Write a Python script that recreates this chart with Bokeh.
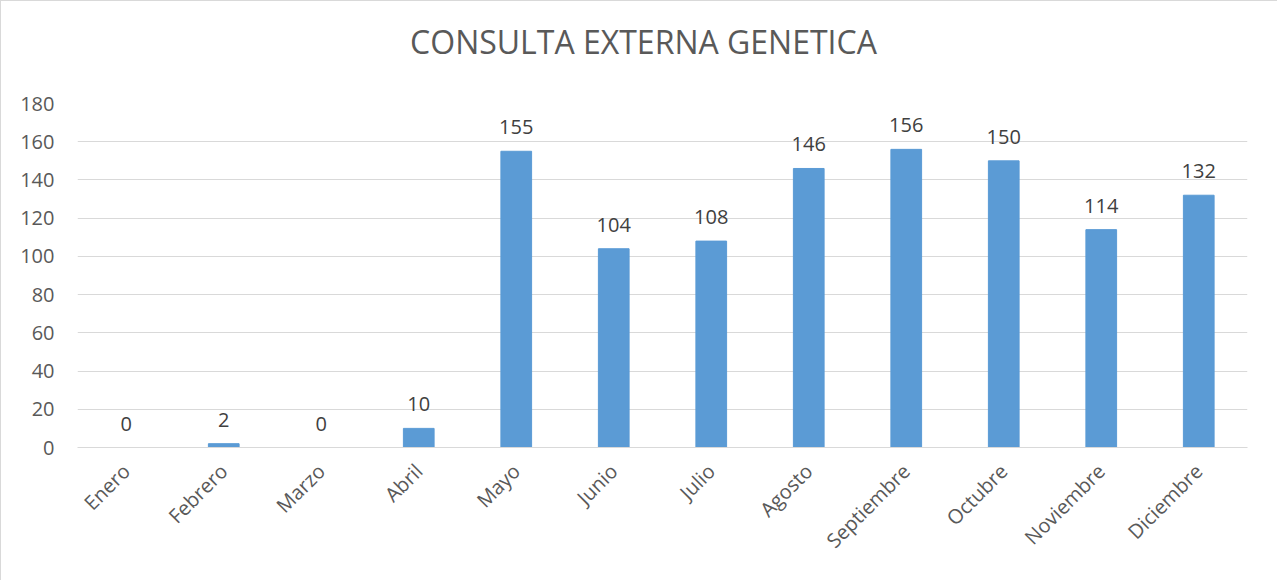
import math
from bokeh.plotting import figure
from bokeh.models import ColumnDataSource, LabelSet, Range1d, FixedTicker, Div
from bokeh.layouts import column
from bokeh.core.properties import value
from bokeh.embed import file_html
from bokeh.resources import INLINE

months = ["Enero", "Febrero", "Marzo", "Abril", "Mayo", "Junio", "Julio",
          "Agosto", "Septiembre", "Octubre", "Noviembre", "Diciembre"]
values = [0, 2, 0, 10, 155, 104, 108, 146, 156, 150, 114, 132]
y_ticks = [0, 20, 40, 60, 80, 100, 120, 140, 160, 180]
title_text = "CONSULTA EXTERNA GENETICA"

src = ColumnDataSource(dict(m=months, v=values, t=[str(v) for v in values]))

FONT = "Open Sans"
TXT = "#595959"
W = 1267

head = Div(
    text=('<div style="padding-top:21px;font-family:\'Open Sans\';'
          'font-size:32px;line-height:32px;color:#595959;text-align:center;'
          'white-space:nowrap;position:relative;left:5px;width:%dpx;">%s</div>'
          % (W, title_text)),
    width=W, height=60)

p = figure(x_range=months, y_range=Range1d(0, 180), width=W, height=510,
           title=None, output_backend="svg", toolbar_location=None,
           min_border_left=77, min_border_right=20, min_border_top=33,
           min_border_bottom=133)
p.border_fill_color = None

p.vbar(x="m", top="v", width=0.315, source=src, color="#5B9BD5")

labels = LabelSet(x="m", y="v", text="t", source=src, y_offset=17,
                  text_align="center", text_baseline="alphabetic",
                  text_font=value(FONT), text_font_size="20px",
                  text_color="#404040")
p.add_layout(labels)

p.outline_line_color = None
p.x_range.range_padding = 0
p.xgrid.grid_line_color = None
p.ygrid.grid_line_color = "#d9d9d9"
p.ygrid.grid_line_width = 1

p.yaxis.ticker = FixedTicker(ticks=y_ticks)
p.yaxis.axis_line_color = None
p.yaxis.major_tick_line_color = None
p.yaxis.minor_tick_line_color = None
p.yaxis.major_label_text_font = FONT
p.yaxis.major_label_text_font_size = "20px"
p.yaxis.major_label_text_color = TXT
p.yaxis.major_label_standoff = 17

p.xaxis.axis_line_color = "#d9d9d9"
p.xaxis.major_tick_line_color = None
p.xaxis.minor_tick_line_color = None
p.xaxis.major_label_orientation = math.pi / 4
p.xaxis.major_label_text_font = FONT
p.xaxis.major_label_text_font_size = "20px"
p.xaxis.major_label_text_color = TXT
p.xaxis.major_label_standoff = 14

layout = column(head, p, spacing=0)
layout.styles = {"box-shadow": "inset 1px 1px 0 #d9d9d9"}

open("out.html", "w").write(file_html(layout, INLINE))
